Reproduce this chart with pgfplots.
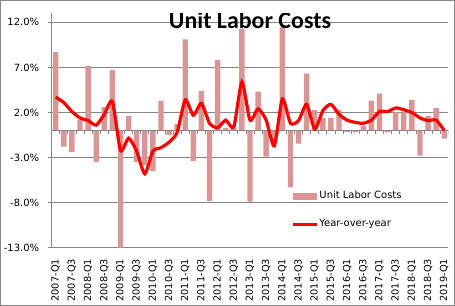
\documentclass[border=0pt]{standalone}
\usepackage{fontspec}
\setmainfont{DejaVu Sans}
\newfontfamily\titlefont{Carlito}
\usepackage{pgfplots}
\usepackage{pgfplotstable}
\pgfplotsset{compat=1.18}
\definecolor{barc}{RGB}{217,150,148}
\definecolor{gridc}{RGB}{134,134,134}
\pgfplotstableread{
i bar yoy
0 8.7 3.7
1 -1.8 3.1
2 -2.4 2.1
3 1.2 1.4
4 7.15 1.1
5 -3.5 0.6
6 2.6 1.8
7 6.7 3.2
8 -13.0 -2.2
9 1.6 -0.85
10 -3.5 -2.3
11 -3.8 -4.8
12 -4.5 -2.3
13 3.3 -1.9
14 -0.5 -1.3
15 0.7 -0.2
16 10.1 3.4
17 -3.4 1.7
18 4.4 3.0
19 -7.8 0.8
20 7.8 0.3
21 0.3 1.15
22 0.3 0.4
23 11.3 5.4
24 -7.9 1.15
25 4.3 2.4
26 -2.9 1.15
27 -1.2 -1.7
28 11.5 3.5
29 -6.3 0.8
30 -1.45 1.1
31 6.3 2.9
32 2.25 0.15
33 1.4 2.2
34 1.4 2.9
35 2.25 1.8
36 -0.15 1.15
37 -0.2 0.9
38 0.5 0.8
39 3.3 1.15
40 4.1 2.1
41 -0.2 2.1
42 2.0 2.5
43 2.0 2.3
44 3.4 2.0
45 -2.8 1.4
46 1.6 1.1
47 2.5 1.15
48 -0.9 0.0
}\data
\begin{document}
\begin{tikzpicture}
\path[use as bounding box] (0,0) rectangle (455bp,306bp);
\draw[gridc, line width=0.8bp] (0.5bp,0.5bp) rectangle (454.5bp,305.5bp);
\begin{axis}[
  at={(51.7bp,58.3bp)}, anchor=south west,
  scale only axis, width=396.6bp, height=234.4bp,
  xmin=-0.5, xmax=48.5, ymin=-13, ymax=13,
  axis lines*=left,
  axis line style={gridc, line width=0.8bp},
  ytick={-13,-8,-3,2,7,12},
  ymajorgrids,
  grid style={gridc, line width=0.8bp},
  tick align=outside,
  major tick length=4bp,
  tick style={gridc, line width=0.8bp},
  xtick style={draw=none},
  /pgf/number format/assume math mode=true,
  yticklabel={\pgfmathprintnumber[fixed,fixed zerofill,precision=1]{\tick}\%},
  yticklabel style={font=\fontsize{10}{12}\selectfont, inner sep=0pt, anchor=east, xshift=-8.4bp},
  xtick={0,2,...,48},
  xticklabels={2007-Q1,2007-Q3,2008-Q1,2008-Q3,2009-Q1,2009-Q3,2010-Q1,2010-Q3,2011-Q1,2011-Q3,2012-Q1,2012-Q3,2013-Q1,2013-Q3,2014-Q1,2014-Q3,2015-Q1,2015-Q3,2016-Q1,2016-Q3,2017-Q1,2017-Q3,2018-Q1,2018-Q3,2019-Q1},
  xticklabel style={font=\fontsize{9.8}{12}\selectfont, rotate=90, anchor=east, inner sep=0pt},
  xticklabel shift=7bp,
  legend cell align=left,
  legend style={draw=none, fill=none, at={(rel axis cs:0.596,0.1596)}, anchor=west,
    font=\fontsize{10}{12}\selectfont, row sep=16bp,
    nodes={inner sep=1bp, text height=7.5bp, text depth=2.5bp}},
]
\addplot[ybar, bar width=5.4bp, fill=barc, draw=none,
  legend image code/.code={\fill[barc] (0bp,-3.5bp) rectangle (24bp,3.5bp);}]
  table[x=i,y=bar]{\data};
\addlegendentry{Unit Labor Costs}
\draw[gridc, line width=0.8bp] (axis cs:-0.5,0) -- (axis cs:48.5,0);
\pgfplotsinvokeforeach{-0.5,0.5,...,48.5}{\draw[gridc, line width=0.8bp] (axis cs:#1,0) -- ([yshift=-3bp]axis cs:#1,0);}
\addplot[red, line width=3.2bp, smooth, tension=0.4,
  legend image code/.code={\draw[red, line width=3.2bp] (0bp,0) -- (24bp,0);}]
  table[x=i,y=yoy]{\data};
\addlegendentry{Year-over-year}
\node[anchor=base, inner sep=0pt, font=\titlefont\bfseries\fontsize{24}{28}\selectfont] at (rel axis cs:0.5,0.934) {Unit Labor Costs};
\end{axis}
\end{tikzpicture}
\end{document}
